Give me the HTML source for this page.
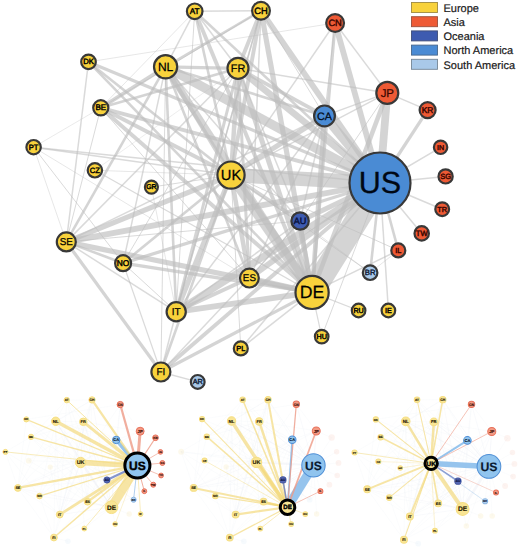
<!DOCTYPE html>
<html><head><meta charset="utf-8"><style>
html,body{margin:0;padding:0;background:#fff;}
svg{display:block;font-family:"Liberation Sans",sans-serif;text-rendering:geometricPrecision;}
</style></head><body>
<svg width="520" height="548" viewBox="0 0 520 548">
<rect width="520" height="548" fill="#fff"/>
<g stroke="#bdbdbd" stroke-opacity="0.66" fill="none" stroke-linecap="butt">
<line x1="380.0" y1="183.0" x2="312.1" y2="292.4" stroke-width="23.40"/>
<line x1="380.0" y1="183.0" x2="231.0" y2="175.1" stroke-width="14.30"/>
<line x1="380.0" y1="183.0" x2="165.6" y2="66.8" stroke-width="9.10"/>
<line x1="380.0" y1="183.0" x2="238.0" y2="68.3" stroke-width="6.50"/>
<line x1="380.0" y1="183.0" x2="324.5" y2="115.9" stroke-width="9.10"/>
<line x1="380.0" y1="183.0" x2="387.3" y2="92.9" stroke-width="7.80"/>
<line x1="380.0" y1="183.0" x2="335.1" y2="23.0" stroke-width="5.85"/>
<line x1="380.0" y1="183.0" x2="261.0" y2="10.8" stroke-width="5.85"/>
<line x1="380.0" y1="183.0" x2="176.2" y2="311.8" stroke-width="7.15"/>
<line x1="380.0" y1="183.0" x2="249.4" y2="278.1" stroke-width="5.85"/>
<line x1="380.0" y1="183.0" x2="66.3" y2="241.9" stroke-width="5.85"/>
<line x1="380.0" y1="183.0" x2="300.1" y2="221.0" stroke-width="5.20"/>
<line x1="380.0" y1="183.0" x2="427.6" y2="110.1" stroke-width="3.25"/>
<line x1="380.0" y1="183.0" x2="398.3" y2="250.4" stroke-width="2.60"/>
<line x1="380.0" y1="183.0" x2="100.8" y2="107.8" stroke-width="3.90"/>
<line x1="380.0" y1="183.0" x2="88.5" y2="61.9" stroke-width="3.25"/>
<line x1="380.0" y1="183.0" x2="194.7" y2="11.3" stroke-width="2.60"/>
<line x1="380.0" y1="183.0" x2="123.1" y2="263.2" stroke-width="3.25"/>
<line x1="380.0" y1="183.0" x2="160.9" y2="372.0" stroke-width="3.90"/>
<line x1="380.0" y1="183.0" x2="33.6" y2="147.2" stroke-width="1.50" stroke-opacity="0.56"/>
<line x1="380.0" y1="183.0" x2="240.8" y2="348.4" stroke-width="1.50" stroke-opacity="0.56"/>
<line x1="380.0" y1="183.0" x2="321.7" y2="336.6" stroke-width="1.00" stroke-opacity="0.56"/>
<line x1="380.0" y1="183.0" x2="388.4" y2="310.5" stroke-width="1.50" stroke-opacity="0.56"/>
<line x1="380.0" y1="183.0" x2="370.1" y2="272.7" stroke-width="2.60"/>
<line x1="380.0" y1="183.0" x2="421.7" y2="233.4" stroke-width="1.50" stroke-opacity="0.56"/>
<line x1="380.0" y1="183.0" x2="442.2" y2="209.2" stroke-width="1.50" stroke-opacity="0.56"/>
<line x1="380.0" y1="183.0" x2="445.6" y2="176.4" stroke-width="1.50" stroke-opacity="0.56"/>
<line x1="380.0" y1="183.0" x2="440.6" y2="147.3" stroke-width="1.50" stroke-opacity="0.56"/>
<line x1="312.1" y1="292.4" x2="231.0" y2="175.1" stroke-width="10.40"/>
<line x1="312.1" y1="292.4" x2="165.6" y2="66.8" stroke-width="7.00"/>
<line x1="312.1" y1="292.4" x2="238.0" y2="68.3" stroke-width="5.00"/>
<line x1="312.1" y1="292.4" x2="261.0" y2="10.8" stroke-width="5.20"/>
<line x1="312.1" y1="292.4" x2="194.7" y2="11.3" stroke-width="3.90"/>
<line x1="312.1" y1="292.4" x2="88.5" y2="61.9" stroke-width="2.60"/>
<line x1="312.1" y1="292.4" x2="100.8" y2="107.8" stroke-width="3.90"/>
<line x1="312.1" y1="292.4" x2="94.9" y2="170.3" stroke-width="1.20" stroke-opacity="0.56"/>
<line x1="312.1" y1="292.4" x2="66.3" y2="241.9" stroke-width="5.20"/>
<line x1="312.1" y1="292.4" x2="123.1" y2="263.2" stroke-width="3.25"/>
<line x1="312.1" y1="292.4" x2="249.4" y2="278.1" stroke-width="5.20"/>
<line x1="312.1" y1="292.4" x2="176.2" y2="311.8" stroke-width="5.85"/>
<line x1="312.1" y1="292.4" x2="160.9" y2="372.0" stroke-width="3.25"/>
<line x1="312.1" y1="292.4" x2="240.8" y2="348.4" stroke-width="1.50" stroke-opacity="0.56"/>
<line x1="312.1" y1="292.4" x2="300.1" y2="221.0" stroke-width="3.90"/>
<line x1="312.1" y1="292.4" x2="335.1" y2="23.0" stroke-width="3.25"/>
<line x1="312.1" y1="292.4" x2="324.5" y2="115.9" stroke-width="4.55"/>
<line x1="312.1" y1="292.4" x2="387.3" y2="92.9" stroke-width="4.55"/>
<line x1="312.1" y1="292.4" x2="398.3" y2="250.4" stroke-width="1.50" stroke-opacity="0.56"/>
<line x1="312.1" y1="292.4" x2="358.6" y2="310.5" stroke-width="1.20" stroke-opacity="0.56"/>
<line x1="312.1" y1="292.4" x2="321.7" y2="336.6" stroke-width="1.20" stroke-opacity="0.56"/>
<line x1="231.0" y1="175.1" x2="194.7" y2="11.3" stroke-width="2.60"/>
<line x1="231.0" y1="175.1" x2="261.0" y2="10.8" stroke-width="3.90"/>
<line x1="231.0" y1="175.1" x2="88.5" y2="61.9" stroke-width="2.60"/>
<line x1="231.0" y1="175.1" x2="165.6" y2="66.8" stroke-width="4.00"/>
<line x1="231.0" y1="175.1" x2="238.0" y2="68.3" stroke-width="4.50"/>
<line x1="231.0" y1="175.1" x2="100.8" y2="107.8" stroke-width="3.90"/>
<line x1="231.0" y1="175.1" x2="33.6" y2="147.2" stroke-width="1.50" stroke-opacity="0.56"/>
<line x1="231.0" y1="175.1" x2="94.9" y2="170.3" stroke-width="0.80" stroke-opacity="0.45"/>
<line x1="231.0" y1="175.1" x2="151.4" y2="187.1" stroke-width="1.00" stroke-opacity="0.56"/>
<line x1="231.0" y1="175.1" x2="66.3" y2="241.9" stroke-width="5.20"/>
<line x1="231.0" y1="175.1" x2="123.1" y2="263.2" stroke-width="2.60"/>
<line x1="231.0" y1="175.1" x2="176.2" y2="311.8" stroke-width="5.20"/>
<line x1="231.0" y1="175.1" x2="160.9" y2="372.0" stroke-width="2.60"/>
<line x1="231.0" y1="175.1" x2="249.4" y2="278.1" stroke-width="4.55"/>
<line x1="231.0" y1="175.1" x2="240.8" y2="348.4" stroke-width="1.00" stroke-opacity="0.56"/>
<line x1="231.0" y1="175.1" x2="335.1" y2="23.0" stroke-width="1.50" stroke-opacity="0.56"/>
<line x1="231.0" y1="175.1" x2="387.3" y2="92.9" stroke-width="1.50" stroke-opacity="0.56"/>
<line x1="231.0" y1="175.1" x2="324.5" y2="115.9" stroke-width="5.20"/>
<line x1="231.0" y1="175.1" x2="300.1" y2="221.0" stroke-width="3.90"/>
<line x1="231.0" y1="175.1" x2="398.3" y2="250.4" stroke-width="1.00" stroke-opacity="0.56"/>
<line x1="231.0" y1="175.1" x2="370.1" y2="272.7" stroke-width="1.00" stroke-opacity="0.56"/>
<line x1="165.6" y1="66.8" x2="238.0" y2="68.3" stroke-width="3.25"/>
<line x1="165.6" y1="66.8" x2="100.8" y2="107.8" stroke-width="3.90"/>
<line x1="165.6" y1="66.8" x2="261.0" y2="10.8" stroke-width="2.60"/>
<line x1="165.6" y1="66.8" x2="176.2" y2="311.8" stroke-width="2.60"/>
<line x1="165.6" y1="66.8" x2="249.4" y2="278.1" stroke-width="2.60"/>
<line x1="165.6" y1="66.8" x2="66.3" y2="241.9" stroke-width="2.60"/>
<line x1="165.6" y1="66.8" x2="324.5" y2="115.9" stroke-width="2.60"/>
<line x1="165.6" y1="66.8" x2="194.7" y2="11.3" stroke-width="1.50" stroke-opacity="0.56"/>
<line x1="165.6" y1="66.8" x2="160.9" y2="372.0" stroke-width="1.00" stroke-opacity="0.56"/>
<line x1="165.6" y1="66.8" x2="123.1" y2="263.2" stroke-width="1.50" stroke-opacity="0.56"/>
<line x1="165.6" y1="66.8" x2="300.1" y2="221.0" stroke-width="1.50" stroke-opacity="0.56"/>
<line x1="238.0" y1="68.3" x2="261.0" y2="10.8" stroke-width="3.90"/>
<line x1="238.0" y1="68.3" x2="176.2" y2="311.8" stroke-width="3.00"/>
<line x1="238.0" y1="68.3" x2="249.4" y2="278.1" stroke-width="3.00"/>
<line x1="238.0" y1="68.3" x2="100.8" y2="107.8" stroke-width="2.60"/>
<line x1="238.0" y1="68.3" x2="324.5" y2="115.9" stroke-width="3.90"/>
<line x1="238.0" y1="68.3" x2="387.3" y2="92.9" stroke-width="1.50" stroke-opacity="0.56"/>
<line x1="238.0" y1="68.3" x2="194.7" y2="11.3" stroke-width="1.50" stroke-opacity="0.56"/>
<line x1="238.0" y1="68.3" x2="66.3" y2="241.9" stroke-width="1.50" stroke-opacity="0.56"/>
<line x1="238.0" y1="68.3" x2="123.1" y2="263.2" stroke-width="1.00" stroke-opacity="0.56"/>
<line x1="238.0" y1="68.3" x2="300.1" y2="221.0" stroke-width="1.50" stroke-opacity="0.56"/>
<line x1="176.2" y1="311.8" x2="249.4" y2="278.1" stroke-width="3.90"/>
<line x1="176.2" y1="311.8" x2="261.0" y2="10.8" stroke-width="1.50" stroke-opacity="0.56"/>
<line x1="176.2" y1="311.8" x2="66.3" y2="241.9" stroke-width="1.50" stroke-opacity="0.56"/>
<line x1="176.2" y1="311.8" x2="160.9" y2="372.0" stroke-width="1.50" stroke-opacity="0.56"/>
<line x1="176.2" y1="311.8" x2="123.1" y2="263.2" stroke-width="1.00" stroke-opacity="0.56"/>
<line x1="176.2" y1="311.8" x2="194.7" y2="11.3" stroke-width="1.00" stroke-opacity="0.56"/>
<line x1="176.2" y1="311.8" x2="300.1" y2="221.0" stroke-width="1.50" stroke-opacity="0.56"/>
<line x1="66.3" y1="241.9" x2="160.9" y2="372.0" stroke-width="3.25"/>
<line x1="66.3" y1="241.9" x2="123.1" y2="263.2" stroke-width="2.60"/>
<line x1="66.3" y1="241.9" x2="88.5" y2="61.9" stroke-width="1.50" stroke-opacity="0.56"/>
<line x1="66.3" y1="241.9" x2="100.8" y2="107.8" stroke-width="1.00" stroke-opacity="0.56"/>
<line x1="66.3" y1="241.9" x2="33.6" y2="147.2" stroke-width="0.80" stroke-opacity="0.45"/>
<line x1="66.3" y1="241.9" x2="324.5" y2="115.9" stroke-width="1.50" stroke-opacity="0.56"/>
<line x1="66.3" y1="241.9" x2="300.1" y2="221.0" stroke-width="1.00" stroke-opacity="0.56"/>
<line x1="261.0" y1="10.8" x2="194.7" y2="11.3" stroke-width="1.50" stroke-opacity="0.56"/>
<line x1="261.0" y1="10.8" x2="324.5" y2="115.9" stroke-width="1.00" stroke-opacity="0.56"/>
<line x1="261.0" y1="10.8" x2="249.4" y2="278.1" stroke-width="1.50" stroke-opacity="0.56"/>
<line x1="261.0" y1="10.8" x2="100.8" y2="107.8" stroke-width="1.00" stroke-opacity="0.56"/>
<line x1="261.0" y1="10.8" x2="176.2" y2="311.8" stroke-width="1.50" stroke-opacity="0.56"/>
<line x1="324.5" y1="115.9" x2="387.3" y2="92.9" stroke-width="1.50" stroke-opacity="0.56"/>
<line x1="324.5" y1="115.9" x2="335.1" y2="23.0" stroke-width="1.00" stroke-opacity="0.56"/>
<line x1="324.5" y1="115.9" x2="300.1" y2="221.0" stroke-width="1.50" stroke-opacity="0.56"/>
<line x1="324.5" y1="115.9" x2="249.4" y2="278.1" stroke-width="1.50" stroke-opacity="0.56"/>
<line x1="324.5" y1="115.9" x2="176.2" y2="311.8" stroke-width="1.50" stroke-opacity="0.56"/>
<line x1="335.1" y1="23.0" x2="387.3" y2="92.9" stroke-width="1.50" stroke-opacity="0.56"/>
<line x1="387.3" y1="92.9" x2="427.6" y2="110.1" stroke-width="1.50" stroke-opacity="0.56"/>
<line x1="335.1" y1="23.0" x2="88.5" y2="61.9" stroke-width="0.80" stroke-opacity="0.45"/>
<line x1="33.6" y1="147.2" x2="123.1" y2="263.2" stroke-width="1.00" stroke-opacity="0.56"/>
<line x1="33.6" y1="147.2" x2="100.8" y2="107.8" stroke-width="0.70" stroke-opacity="0.45"/>
<line x1="33.6" y1="147.2" x2="249.4" y2="278.1" stroke-width="0.80" stroke-opacity="0.45"/>
<line x1="160.9" y1="372.0" x2="197.7" y2="381.9" stroke-width="1.50" stroke-opacity="0.56"/>
<line x1="160.9" y1="372.0" x2="249.4" y2="278.1" stroke-width="1.50" stroke-opacity="0.56"/>
<line x1="160.9" y1="372.0" x2="123.1" y2="263.2" stroke-width="1.20" stroke-opacity="0.56"/>
<line x1="249.4" y1="278.1" x2="100.8" y2="107.8" stroke-width="1.00" stroke-opacity="0.56"/>
<line x1="249.4" y1="278.1" x2="300.1" y2="221.0" stroke-width="1.50" stroke-opacity="0.56"/>
<line x1="370.1" y1="272.7" x2="300.1" y2="221.0" stroke-width="0.80" stroke-opacity="0.45"/>
<line x1="370.1" y1="272.7" x2="398.3" y2="250.4" stroke-width="0.80" stroke-opacity="0.45"/>
<line x1="300.1" y1="221.0" x2="387.3" y2="92.9" stroke-width="1.00" stroke-opacity="0.56"/>
<line x1="300.1" y1="221.0" x2="249.4" y2="278.1" stroke-width="1.00" stroke-opacity="0.56"/>
<line x1="151.4" y1="187.1" x2="176.2" y2="311.8" stroke-width="0.80" stroke-opacity="0.45"/>
<line x1="94.9" y1="170.3" x2="238.0" y2="68.3" stroke-width="0.60" stroke-opacity="0.45"/>
<line x1="194.7" y1="11.3" x2="100.8" y2="107.8" stroke-width="0.80" stroke-opacity="0.45"/>
</g>
<circle cx="194.7" cy="11.3" r="7.80" fill="#f8d23c" stroke="#383838" stroke-width="2.2"/>
<text x="194.7" y="14.05" font-size="8.20" fill="#000000" stroke="#000000" stroke-width="0.45" text-anchor="middle">AT</text>
<circle cx="261.0" cy="10.8" r="8.90" fill="#f8d23c" stroke="#383838" stroke-width="2.2"/>
<text x="261.0" y="13.92" font-size="9.30" fill="#000000" stroke="#000000" stroke-width="0.45" text-anchor="middle">CH</text>
<circle cx="335.1" cy="23.0" r="8.90" fill="#ee5a35" stroke="#383838" stroke-width="2.2"/>
<text x="335.1" y="26.12" font-size="9.30" fill="#3a0600" stroke="#3a0600" stroke-width="0.45" text-anchor="middle">CN</text>
<circle cx="88.5" cy="61.9" r="7.30" fill="#f8d23c" stroke="#383838" stroke-width="2.2"/>
<text x="88.5" y="64.48" font-size="7.70" fill="#000000" stroke="#000000" stroke-width="0.45" text-anchor="middle">DK</text>
<circle cx="165.6" cy="66.8" r="11.60" fill="#f8d23c" stroke="#383838" stroke-width="2.2"/>
<text x="165.6" y="70.82" font-size="12.00" fill="#000000" stroke="#000000" stroke-width="0.25" text-anchor="middle">NL</text>
<circle cx="238.0" cy="68.3" r="10.50" fill="#f8d23c" stroke="#383838" stroke-width="2.2"/>
<text x="238.0" y="71.95" font-size="10.90" fill="#000000" stroke="#000000" stroke-width="0.25" text-anchor="middle">FR</text>
<circle cx="387.3" cy="92.9" r="11.00" fill="#ee5a35" stroke="#383838" stroke-width="2.2"/>
<text x="387.3" y="96.72" font-size="11.40" fill="#3a0600" stroke="#3a0600" stroke-width="0.25" text-anchor="middle">JP</text>
<circle cx="100.8" cy="107.8" r="7.60" fill="#f8d23c" stroke="#383838" stroke-width="2.2"/>
<text x="100.8" y="110.48" font-size="8.00" fill="#000000" stroke="#000000" stroke-width="0.45" text-anchor="middle">BE</text>
<circle cx="427.6" cy="110.1" r="8.00" fill="#ee5a35" stroke="#383838" stroke-width="2.2"/>
<text x="427.6" y="112.91" font-size="8.40" fill="#3a0600" stroke="#3a0600" stroke-width="0.45" text-anchor="middle">KR</text>
<circle cx="324.5" cy="115.9" r="10.40" fill="#4a8bd4" stroke="#383838" stroke-width="2.2"/>
<text x="324.5" y="119.52" font-size="10.80" fill="#000814" stroke="#000814" stroke-width="0.25" text-anchor="middle">CA</text>
<circle cx="33.6" cy="147.2" r="7.20" fill="#f8d23c" stroke="#383838" stroke-width="2.2"/>
<text x="33.6" y="149.75" font-size="7.60" fill="#000000" stroke="#000000" stroke-width="0.45" text-anchor="middle">PT</text>
<circle cx="440.6" cy="147.3" r="6.70" fill="#ee5a35" stroke="#383838" stroke-width="2.2"/>
<text x="440.6" y="149.68" font-size="7.10" fill="#3a0600" stroke="#3a0600" stroke-width="0.45" text-anchor="middle">IN</text>
<circle cx="94.9" cy="170.3" r="7.20" fill="#f8d23c" stroke="#383838" stroke-width="2.2"/>
<text x="94.9" y="172.85" font-size="7.60" fill="#000000" stroke="#000000" stroke-width="0.45" text-anchor="middle">CZ</text>
<circle cx="231.0" cy="175.1" r="13.60" fill="#f8d23c" stroke="#383838" stroke-width="2.2"/>
<text x="231.0" y="180.02" font-size="14.70" fill="#000000" stroke="#000000" stroke-width="0.25" text-anchor="middle">UK</text>
<circle cx="380.0" cy="183.0" r="30.50" fill="#4a8bd4" stroke="#383838" stroke-width="2.2"/>
<text x="380.0" y="193.06" font-size="30.50" fill="#000814" stroke="#000814" stroke-width="0.3" text-anchor="middle">US</text>
<circle cx="445.6" cy="176.4" r="7.10" fill="#ee5a35" stroke="#383838" stroke-width="2.2"/>
<text x="445.6" y="178.91" font-size="7.50" fill="#3a0600" stroke="#3a0600" stroke-width="0.45" text-anchor="middle">SG</text>
<circle cx="151.4" cy="187.1" r="6.50" fill="#f8d23c" stroke="#383838" stroke-width="2.2"/>
<text x="151.4" y="189.41" font-size="6.90" fill="#000000" stroke="#000000" stroke-width="0.45" text-anchor="middle">GR</text>
<circle cx="442.2" cy="209.2" r="6.90" fill="#ee5a35" stroke="#383838" stroke-width="2.2"/>
<text x="442.2" y="211.65" font-size="7.30" fill="#3a0600" stroke="#3a0600" stroke-width="0.45" text-anchor="middle">TR</text>
<circle cx="300.1" cy="221.0" r="8.70" fill="#3e5bb0" stroke="#383838" stroke-width="2.2"/>
<text x="300.1" y="224.05" font-size="9.10" fill="#081240" stroke="#081240" stroke-width="0.45" text-anchor="middle">AU</text>
<circle cx="421.7" cy="233.4" r="7.20" fill="#ee5a35" stroke="#383838" stroke-width="2.2"/>
<text x="421.7" y="235.95" font-size="7.60" fill="#3a0600" stroke="#3a0600" stroke-width="0.45" text-anchor="middle">TW</text>
<circle cx="66.3" cy="241.9" r="9.50" fill="#f8d23c" stroke="#383838" stroke-width="2.2"/>
<text x="66.3" y="245.22" font-size="9.90" fill="#000000" stroke="#000000" stroke-width="0.25" text-anchor="middle">SE</text>
<circle cx="398.3" cy="250.4" r="7.00" fill="#ee5a35" stroke="#383838" stroke-width="2.2"/>
<text x="398.3" y="252.88" font-size="7.40" fill="#3a0600" stroke="#3a0600" stroke-width="0.45" text-anchor="middle">IL</text>
<circle cx="123.1" cy="263.2" r="8.00" fill="#f8d23c" stroke="#383838" stroke-width="2.2"/>
<text x="123.1" y="266.01" font-size="8.40" fill="#000000" stroke="#000000" stroke-width="0.45" text-anchor="middle">NO</text>
<circle cx="370.1" cy="272.7" r="7.30" fill="#a9c9e9" stroke="#383838" stroke-width="2.2"/>
<text x="370.1" y="275.28" font-size="7.70" fill="#14243c" stroke="#14243c" stroke-width="0.45" text-anchor="middle">BR</text>
<circle cx="249.4" cy="278.1" r="9.40" fill="#f8d23c" stroke="#383838" stroke-width="2.2"/>
<text x="249.4" y="281.38" font-size="9.80" fill="#000000" stroke="#000000" stroke-width="0.25" text-anchor="middle">ES</text>
<circle cx="312.1" cy="292.4" r="16.60" fill="#f8d23c" stroke="#383838" stroke-width="2.2"/>
<text x="312.1" y="298.33" font-size="17.70" fill="#000000" stroke="#000000" stroke-width="0.25" text-anchor="middle">DE</text>
<circle cx="176.2" cy="311.8" r="9.60" fill="#f8d23c" stroke="#383838" stroke-width="2.2"/>
<text x="176.2" y="315.15" font-size="10.00" fill="#000000" stroke="#000000" stroke-width="0.25" text-anchor="middle">IT</text>
<circle cx="358.6" cy="310.5" r="6.80" fill="#f8d23c" stroke="#383838" stroke-width="2.2"/>
<text x="358.6" y="312.91" font-size="7.20" fill="#000000" stroke="#000000" stroke-width="0.45" text-anchor="middle">RU</text>
<circle cx="388.4" cy="310.5" r="6.80" fill="#f8d23c" stroke="#383838" stroke-width="2.2"/>
<text x="388.4" y="312.91" font-size="7.20" fill="#000000" stroke="#000000" stroke-width="0.45" text-anchor="middle">IE</text>
<circle cx="321.7" cy="336.6" r="6.80" fill="#f8d23c" stroke="#383838" stroke-width="2.2"/>
<text x="321.7" y="339.01" font-size="7.20" fill="#000000" stroke="#000000" stroke-width="0.45" text-anchor="middle">HU</text>
<circle cx="240.8" cy="348.4" r="7.00" fill="#f8d23c" stroke="#383838" stroke-width="2.2"/>
<text x="240.8" y="350.88" font-size="7.40" fill="#000000" stroke="#000000" stroke-width="0.45" text-anchor="middle">PL</text>
<circle cx="160.9" cy="372.0" r="9.50" fill="#f8d23c" stroke="#383838" stroke-width="2.2"/>
<text x="160.9" y="375.32" font-size="9.90" fill="#000000" stroke="#000000" stroke-width="0.25" text-anchor="middle">FI</text>
<circle cx="197.7" cy="381.9" r="6.90" fill="#a9c9e9" stroke="#383838" stroke-width="2.2"/>
<text x="197.7" y="384.35" font-size="7.30" fill="#14243c" stroke="#14243c" stroke-width="0.45" text-anchor="middle">AR</text>
<rect x="411.5" y="2.50" width="26" height="10" fill="#f8d23c" stroke="#9e8b40" stroke-width="0.9"/>
<text x="443.5" y="11.80" font-size="11" fill="#1a1a1a" stroke="#1a1a1a" stroke-width="0.2">Europe</text>
<rect x="411.5" y="16.70" width="26" height="10" fill="#ee5a35" stroke="#994f3c" stroke-width="0.9"/>
<text x="443.5" y="26.00" font-size="11" fill="#1a1a1a" stroke="#1a1a1a" stroke-width="0.2">Asia</text>
<rect x="411.5" y="30.90" width="26" height="10" fill="#3e5bb0" stroke="#414f7a" stroke-width="0.9"/>
<text x="443.5" y="40.20" font-size="11" fill="#1a1a1a" stroke="#1a1a1a" stroke-width="0.2">Oceania</text>
<rect x="411.5" y="45.10" width="26" height="10" fill="#4a8bd4" stroke="#47678c" stroke-width="0.9"/>
<text x="443.5" y="54.40" font-size="11" fill="#1a1a1a" stroke="#1a1a1a" stroke-width="0.2">North America</text>
<rect x="411.5" y="59.30" width="26" height="10" fill="#a9c9e9" stroke="#768696" stroke-width="0.9"/>
<text x="443.5" y="68.60" font-size="11" fill="#1a1a1a" stroke="#1a1a1a" stroke-width="0.2">South America</text>
<g transform="translate(-7.4,395.8) scale(0.381)">
<g stroke="#e6e9f2" stroke-opacity="0.35" fill="none">
<line x1="312.1" y1="292.4" x2="231.0" y2="175.1" stroke-width="3.19"/>
<line x1="312.1" y1="292.4" x2="165.6" y2="66.8" stroke-width="2.79"/>
<line x1="312.1" y1="292.4" x2="238.0" y2="68.3" stroke-width="1.99"/>
<line x1="312.1" y1="292.4" x2="261.0" y2="10.8" stroke-width="1.60"/>
<line x1="312.1" y1="292.4" x2="194.7" y2="11.3" stroke-width="1.20"/>
<line x1="312.1" y1="292.4" x2="88.5" y2="61.9" stroke-width="1.20"/>
<line x1="312.1" y1="292.4" x2="100.8" y2="107.8" stroke-width="1.20"/>
<line x1="312.1" y1="292.4" x2="94.9" y2="170.3" stroke-width="1.20"/>
<line x1="312.1" y1="292.4" x2="66.3" y2="241.9" stroke-width="1.60"/>
<line x1="312.1" y1="292.4" x2="123.1" y2="263.2" stroke-width="1.20"/>
<line x1="312.1" y1="292.4" x2="249.4" y2="278.1" stroke-width="1.60"/>
<line x1="312.1" y1="292.4" x2="176.2" y2="311.8" stroke-width="1.80"/>
<line x1="312.1" y1="292.4" x2="160.9" y2="372.0" stroke-width="1.20"/>
<line x1="312.1" y1="292.4" x2="240.8" y2="348.4" stroke-width="1.20"/>
<line x1="312.1" y1="292.4" x2="300.1" y2="221.0" stroke-width="1.20"/>
<line x1="312.1" y1="292.4" x2="335.1" y2="23.0" stroke-width="1.20"/>
<line x1="312.1" y1="292.4" x2="324.5" y2="115.9" stroke-width="1.40"/>
<line x1="312.1" y1="292.4" x2="387.3" y2="92.9" stroke-width="1.40"/>
<line x1="312.1" y1="292.4" x2="398.3" y2="250.4" stroke-width="1.20"/>
<line x1="312.1" y1="292.4" x2="358.6" y2="310.5" stroke-width="1.20"/>
<line x1="312.1" y1="292.4" x2="321.7" y2="336.6" stroke-width="1.20"/>
<line x1="231.0" y1="175.1" x2="194.7" y2="11.3" stroke-width="1.20"/>
<line x1="231.0" y1="175.1" x2="261.0" y2="10.8" stroke-width="1.20"/>
<line x1="231.0" y1="175.1" x2="88.5" y2="61.9" stroke-width="1.20"/>
<line x1="231.0" y1="175.1" x2="165.6" y2="66.8" stroke-width="1.99"/>
<line x1="231.0" y1="175.1" x2="238.0" y2="68.3" stroke-width="1.99"/>
<line x1="231.0" y1="175.1" x2="100.8" y2="107.8" stroke-width="1.20"/>
<line x1="231.0" y1="175.1" x2="33.6" y2="147.2" stroke-width="1.20"/>
<line x1="231.0" y1="175.1" x2="94.9" y2="170.3" stroke-width="1.20"/>
<line x1="231.0" y1="175.1" x2="151.4" y2="187.1" stroke-width="1.20"/>
<line x1="231.0" y1="175.1" x2="66.3" y2="241.9" stroke-width="1.60"/>
<line x1="231.0" y1="175.1" x2="123.1" y2="263.2" stroke-width="1.20"/>
<line x1="231.0" y1="175.1" x2="176.2" y2="311.8" stroke-width="1.60"/>
<line x1="231.0" y1="175.1" x2="160.9" y2="372.0" stroke-width="1.20"/>
<line x1="231.0" y1="175.1" x2="249.4" y2="278.1" stroke-width="1.40"/>
<line x1="231.0" y1="175.1" x2="240.8" y2="348.4" stroke-width="1.20"/>
<line x1="231.0" y1="175.1" x2="335.1" y2="23.0" stroke-width="1.20"/>
<line x1="231.0" y1="175.1" x2="387.3" y2="92.9" stroke-width="1.20"/>
<line x1="231.0" y1="175.1" x2="324.5" y2="115.9" stroke-width="1.60"/>
<line x1="231.0" y1="175.1" x2="300.1" y2="221.0" stroke-width="1.20"/>
<line x1="231.0" y1="175.1" x2="398.3" y2="250.4" stroke-width="1.20"/>
<line x1="231.0" y1="175.1" x2="370.1" y2="272.7" stroke-width="1.20"/>
<line x1="165.6" y1="66.8" x2="238.0" y2="68.3" stroke-width="1.20"/>
<line x1="165.6" y1="66.8" x2="100.8" y2="107.8" stroke-width="1.20"/>
<line x1="165.6" y1="66.8" x2="261.0" y2="10.8" stroke-width="1.20"/>
<line x1="165.6" y1="66.8" x2="176.2" y2="311.8" stroke-width="1.20"/>
<line x1="165.6" y1="66.8" x2="249.4" y2="278.1" stroke-width="1.20"/>
<line x1="165.6" y1="66.8" x2="66.3" y2="241.9" stroke-width="1.20"/>
<line x1="165.6" y1="66.8" x2="324.5" y2="115.9" stroke-width="1.20"/>
<line x1="165.6" y1="66.8" x2="194.7" y2="11.3" stroke-width="1.20"/>
<line x1="165.6" y1="66.8" x2="160.9" y2="372.0" stroke-width="1.20"/>
<line x1="165.6" y1="66.8" x2="123.1" y2="263.2" stroke-width="1.20"/>
<line x1="165.6" y1="66.8" x2="300.1" y2="221.0" stroke-width="1.20"/>
<line x1="238.0" y1="68.3" x2="261.0" y2="10.8" stroke-width="1.20"/>
<line x1="238.0" y1="68.3" x2="176.2" y2="311.8" stroke-width="1.40"/>
<line x1="238.0" y1="68.3" x2="249.4" y2="278.1" stroke-width="1.20"/>
<line x1="238.0" y1="68.3" x2="100.8" y2="107.8" stroke-width="1.20"/>
<line x1="238.0" y1="68.3" x2="324.5" y2="115.9" stroke-width="1.20"/>
<line x1="238.0" y1="68.3" x2="387.3" y2="92.9" stroke-width="1.20"/>
<line x1="238.0" y1="68.3" x2="194.7" y2="11.3" stroke-width="1.20"/>
<line x1="238.0" y1="68.3" x2="66.3" y2="241.9" stroke-width="1.20"/>
<line x1="238.0" y1="68.3" x2="123.1" y2="263.2" stroke-width="1.20"/>
<line x1="238.0" y1="68.3" x2="300.1" y2="221.0" stroke-width="1.20"/>
<line x1="176.2" y1="311.8" x2="249.4" y2="278.1" stroke-width="1.20"/>
<line x1="176.2" y1="311.8" x2="261.0" y2="10.8" stroke-width="1.20"/>
<line x1="176.2" y1="311.8" x2="66.3" y2="241.9" stroke-width="1.20"/>
<line x1="176.2" y1="311.8" x2="160.9" y2="372.0" stroke-width="1.20"/>
<line x1="176.2" y1="311.8" x2="123.1" y2="263.2" stroke-width="1.20"/>
<line x1="176.2" y1="311.8" x2="194.7" y2="11.3" stroke-width="1.20"/>
<line x1="176.2" y1="311.8" x2="300.1" y2="221.0" stroke-width="1.20"/>
<line x1="66.3" y1="241.9" x2="160.9" y2="372.0" stroke-width="1.20"/>
<line x1="66.3" y1="241.9" x2="123.1" y2="263.2" stroke-width="1.20"/>
<line x1="66.3" y1="241.9" x2="88.5" y2="61.9" stroke-width="1.20"/>
<line x1="66.3" y1="241.9" x2="100.8" y2="107.8" stroke-width="1.20"/>
<line x1="66.3" y1="241.9" x2="33.6" y2="147.2" stroke-width="1.20"/>
<line x1="66.3" y1="241.9" x2="324.5" y2="115.9" stroke-width="1.20"/>
<line x1="66.3" y1="241.9" x2="300.1" y2="221.0" stroke-width="1.20"/>
<line x1="261.0" y1="10.8" x2="194.7" y2="11.3" stroke-width="1.20"/>
<line x1="261.0" y1="10.8" x2="324.5" y2="115.9" stroke-width="1.20"/>
<line x1="261.0" y1="10.8" x2="249.4" y2="278.1" stroke-width="1.20"/>
<line x1="261.0" y1="10.8" x2="100.8" y2="107.8" stroke-width="1.20"/>
<line x1="261.0" y1="10.8" x2="176.2" y2="311.8" stroke-width="1.20"/>
<line x1="324.5" y1="115.9" x2="387.3" y2="92.9" stroke-width="1.20"/>
<line x1="324.5" y1="115.9" x2="335.1" y2="23.0" stroke-width="1.20"/>
<line x1="324.5" y1="115.9" x2="300.1" y2="221.0" stroke-width="1.20"/>
<line x1="324.5" y1="115.9" x2="249.4" y2="278.1" stroke-width="1.20"/>
<line x1="324.5" y1="115.9" x2="176.2" y2="311.8" stroke-width="1.20"/>
<line x1="335.1" y1="23.0" x2="387.3" y2="92.9" stroke-width="1.20"/>
<line x1="387.3" y1="92.9" x2="427.6" y2="110.1" stroke-width="1.20"/>
<line x1="335.1" y1="23.0" x2="88.5" y2="61.9" stroke-width="1.20"/>
<line x1="33.6" y1="147.2" x2="123.1" y2="263.2" stroke-width="1.20"/>
<line x1="33.6" y1="147.2" x2="100.8" y2="107.8" stroke-width="1.20"/>
<line x1="33.6" y1="147.2" x2="249.4" y2="278.1" stroke-width="1.20"/>
<line x1="160.9" y1="372.0" x2="197.7" y2="381.9" stroke-width="1.20"/>
<line x1="160.9" y1="372.0" x2="249.4" y2="278.1" stroke-width="1.20"/>
<line x1="160.9" y1="372.0" x2="123.1" y2="263.2" stroke-width="1.20"/>
<line x1="249.4" y1="278.1" x2="100.8" y2="107.8" stroke-width="1.20"/>
<line x1="249.4" y1="278.1" x2="300.1" y2="221.0" stroke-width="1.20"/>
<line x1="370.1" y1="272.7" x2="300.1" y2="221.0" stroke-width="1.20"/>
<line x1="370.1" y1="272.7" x2="398.3" y2="250.4" stroke-width="1.20"/>
<line x1="300.1" y1="221.0" x2="387.3" y2="92.9" stroke-width="1.20"/>
<line x1="300.1" y1="221.0" x2="249.4" y2="278.1" stroke-width="1.20"/>
<line x1="151.4" y1="187.1" x2="176.2" y2="311.8" stroke-width="1.20"/>
<line x1="94.9" y1="170.3" x2="238.0" y2="68.3" stroke-width="1.20"/>
<line x1="194.7" y1="11.3" x2="100.8" y2="107.8" stroke-width="1.20"/>
</g>
<line x1="380.0" y1="183.0" x2="312.1" y2="292.4" stroke="#f2d772" stroke-opacity="0.64" stroke-width="23.62"/>
<line x1="380.0" y1="183.0" x2="231.0" y2="175.1" stroke="#f2d772" stroke-opacity="0.64" stroke-width="14.44"/>
<line x1="380.0" y1="183.0" x2="165.6" y2="66.8" stroke="#f2d772" stroke-opacity="0.64" stroke-width="9.19"/>
<line x1="380.0" y1="183.0" x2="324.5" y2="115.9" stroke="#84baea" stroke-opacity="0.85" stroke-width="9.19"/>
<line x1="380.0" y1="183.0" x2="238.0" y2="68.3" stroke="#f2d772" stroke-opacity="0.64" stroke-width="7.87"/>
<line x1="380.0" y1="183.0" x2="387.3" y2="92.9" stroke="#ee9a86" stroke-opacity="0.8" stroke-width="7.87"/>
<line x1="380.0" y1="183.0" x2="176.2" y2="311.8" stroke="#f2d772" stroke-opacity="0.64" stroke-width="7.22"/>
<line x1="380.0" y1="183.0" x2="335.1" y2="23.0" stroke="#ee9a86" stroke-opacity="0.8" stroke-width="5.91"/>
<line x1="380.0" y1="183.0" x2="261.0" y2="10.8" stroke="#f2d772" stroke-opacity="0.64" stroke-width="5.91"/>
<line x1="380.0" y1="183.0" x2="249.4" y2="278.1" stroke="#f2d772" stroke-opacity="0.64" stroke-width="5.91"/>
<line x1="380.0" y1="183.0" x2="66.3" y2="241.9" stroke="#f2d772" stroke-opacity="0.64" stroke-width="5.91"/>
<line x1="380.0" y1="183.0" x2="300.1" y2="221.0" stroke="#7082c4" stroke-opacity="0.85" stroke-width="5.25"/>
<line x1="380.0" y1="183.0" x2="100.8" y2="107.8" stroke="#f2d772" stroke-opacity="0.64" stroke-width="3.94"/>
<line x1="380.0" y1="183.0" x2="160.9" y2="372.0" stroke="#f2d772" stroke-opacity="0.64" stroke-width="3.94"/>
<line x1="380.0" y1="183.0" x2="427.6" y2="110.1" stroke="#ee9a86" stroke-opacity="0.8" stroke-width="3.28"/>
<line x1="380.0" y1="183.0" x2="88.5" y2="61.9" stroke="#f2d772" stroke-opacity="0.64" stroke-width="3.28"/>
<line x1="380.0" y1="183.0" x2="123.1" y2="263.2" stroke="#f2d772" stroke-opacity="0.64" stroke-width="3.28"/>
<line x1="380.0" y1="183.0" x2="398.3" y2="250.4" stroke="#ee9a86" stroke-opacity="0.8" stroke-width="2.62"/>
<line x1="380.0" y1="183.0" x2="194.7" y2="11.3" stroke="#f2d772" stroke-opacity="0.64" stroke-width="2.62"/>
<line x1="380.0" y1="183.0" x2="370.1" y2="272.7" stroke="#a4c8ec" stroke-opacity="0.85" stroke-width="2.62"/>
<line x1="380.0" y1="183.0" x2="33.6" y2="147.2" stroke="#f2d772" stroke-opacity="0.64" stroke-width="1.97"/>
<line x1="380.0" y1="183.0" x2="240.8" y2="348.4" stroke="#f2d772" stroke-opacity="0.64" stroke-width="1.97"/>
<line x1="380.0" y1="183.0" x2="388.4" y2="310.5" stroke="#f2d772" stroke-opacity="0.64" stroke-width="1.97"/>
<line x1="380.0" y1="183.0" x2="421.7" y2="233.4" stroke="#ee9a86" stroke-opacity="0.8" stroke-width="1.97"/>
<line x1="380.0" y1="183.0" x2="442.2" y2="209.2" stroke="#ee9a86" stroke-opacity="0.8" stroke-width="1.97"/>
<line x1="380.0" y1="183.0" x2="445.6" y2="176.4" stroke="#ee9a86" stroke-opacity="0.8" stroke-width="1.97"/>
<line x1="380.0" y1="183.0" x2="440.6" y2="147.3" stroke="#ee9a86" stroke-opacity="0.8" stroke-width="1.97"/>
<line x1="380.0" y1="183.0" x2="321.7" y2="336.6" stroke="#f2d772" stroke-opacity="0.64" stroke-width="1.31"/>
<circle cx="94.9" cy="170.3" r="7.6" fill="#f3e3a0" fill-opacity="0.2"/>
<circle cx="151.4" cy="187.1" r="6.9" fill="#f3e3a0" fill-opacity="0.2"/>
<circle cx="358.6" cy="310.5" r="7.2" fill="#f3e3a0" fill-opacity="0.2"/>
<circle cx="197.7" cy="381.9" r="7.3" fill="#d4e4f4" fill-opacity="0.2"/>
<circle cx="194.7" cy="11.3" r="7.20" fill="#f9e594" stroke="#f5de84" stroke-width="2.62"/>
<text x="194.7" y="14.16" font-size="7.95" font-weight="bold" fill="#1e1800" stroke="#1e1800" stroke-width="0.39" text-anchor="middle">AT</text>
<circle cx="261.0" cy="10.8" r="8.30" fill="#f9e594" stroke="#f5de84" stroke-width="2.62"/>
<text x="261.0" y="14.05" font-size="9.02" font-weight="bold" fill="#1e1800" stroke="#1e1800" stroke-width="0.39" text-anchor="middle">CH</text>
<circle cx="335.1" cy="23.0" r="8.30" fill="#f29a84" stroke="#e8705a" stroke-width="2.62"/>
<text x="335.1" y="26.25" font-size="9.02" font-weight="bold" fill="#3a0c04" stroke="#3a0c04" stroke-width="0.39" text-anchor="middle">CN</text>
<circle cx="88.5" cy="61.9" r="6.70" fill="#f9e594" stroke="#f5de84" stroke-width="2.62"/>
<text x="88.5" y="64.59" font-size="7.47" font-weight="bold" fill="#1e1800" stroke="#1e1800" stroke-width="0.39" text-anchor="middle">DK</text>
<circle cx="165.6" cy="66.8" r="11.00" fill="#f9e594" stroke="#f5de84" stroke-width="2.62"/>
<text x="165.6" y="70.99" font-size="11.64" font-weight="bold" fill="#1e1800" stroke="#1e1800" stroke-width="0.39" text-anchor="middle">NL</text>
<circle cx="238.0" cy="68.3" r="9.90" fill="#f9e594" stroke="#f5de84" stroke-width="2.62"/>
<text x="238.0" y="72.11" font-size="10.57" font-weight="bold" fill="#1e1800" stroke="#1e1800" stroke-width="0.39" text-anchor="middle">FR</text>
<circle cx="387.3" cy="92.9" r="10.40" fill="#f29a84" stroke="#e8705a" stroke-width="2.62"/>
<text x="387.3" y="96.88" font-size="11.06" font-weight="bold" fill="#3a0c04" stroke="#3a0c04" stroke-width="0.39" text-anchor="middle">JP</text>
<circle cx="100.8" cy="107.8" r="7.00" fill="#f9e594" stroke="#f5de84" stroke-width="2.62"/>
<text x="100.8" y="110.59" font-size="7.76" font-weight="bold" fill="#1e1800" stroke="#1e1800" stroke-width="0.39" text-anchor="middle">BE</text>
<circle cx="427.6" cy="110.1" r="7.40" fill="#f29a84" stroke="#e8705a" stroke-width="2.62"/>
<text x="427.6" y="113.03" font-size="8.15" font-weight="bold" fill="#3a0c04" stroke="#3a0c04" stroke-width="0.39" text-anchor="middle">KR</text>
<circle cx="324.5" cy="115.9" r="9.80" fill="#90c4ee" stroke="#4f8fd6" stroke-width="2.62"/>
<text x="324.5" y="119.67" font-size="10.48" font-weight="bold" fill="#0a1a30" stroke="#0a1a30" stroke-width="0.39" text-anchor="middle">CA</text>
<circle cx="33.6" cy="147.2" r="6.60" fill="#f9e594" stroke="#f5de84" stroke-width="2.62"/>
<text x="33.6" y="149.85" font-size="7.37" font-weight="bold" fill="#1e1800" stroke="#1e1800" stroke-width="0.39" text-anchor="middle">PT</text>
<circle cx="440.6" cy="147.3" r="6.10" fill="#f29a84" stroke="#e8705a" stroke-width="2.62"/>
<text x="440.6" y="149.78" font-size="6.89" font-weight="bold" fill="#3a0c04" stroke="#3a0c04" stroke-width="0.39" text-anchor="middle">IN</text>
<circle cx="231.0" cy="175.1" r="13.70" fill="#f9e594" stroke="#f5de84" stroke-width="2.62"/>
<text x="231.0" y="180.23" font-size="14.26" font-weight="bold" fill="#1e1800" stroke="#1e1800" stroke-width="0.39" text-anchor="middle">UK</text>
<circle cx="445.6" cy="176.4" r="6.50" fill="#f29a84" stroke="#e8705a" stroke-width="2.62"/>
<text x="445.6" y="179.02" font-size="7.27" font-weight="bold" fill="#3a0c04" stroke="#3a0c04" stroke-width="0.39" text-anchor="middle">SG</text>
<circle cx="442.2" cy="209.2" r="6.30" fill="#f29a84" stroke="#e8705a" stroke-width="2.62"/>
<text x="442.2" y="211.75" font-size="7.08" font-weight="bold" fill="#3a0c04" stroke="#3a0c04" stroke-width="0.39" text-anchor="middle">TR</text>
<circle cx="300.1" cy="221.0" r="8.10" fill="#5567b3" stroke="#44569f" stroke-width="2.62"/>
<text x="300.1" y="224.18" font-size="8.83" font-weight="bold" fill="#0a123a" stroke="#0a123a" stroke-width="0.39" text-anchor="middle">AU</text>
<circle cx="421.7" cy="233.4" r="6.60" fill="#f29a84" stroke="#e8705a" stroke-width="2.62"/>
<text x="421.7" y="236.05" font-size="7.37" font-weight="bold" fill="#3a0c04" stroke="#3a0c04" stroke-width="0.39" text-anchor="middle">TW</text>
<circle cx="66.3" cy="241.9" r="8.90" fill="#f9e594" stroke="#f5de84" stroke-width="2.62"/>
<text x="66.3" y="245.36" font-size="9.60" font-weight="bold" fill="#1e1800" stroke="#1e1800" stroke-width="0.39" text-anchor="middle">SE</text>
<circle cx="398.3" cy="250.4" r="6.40" fill="#f29a84" stroke="#e8705a" stroke-width="2.62"/>
<text x="398.3" y="252.98" font-size="7.18" font-weight="bold" fill="#3a0c04" stroke="#3a0c04" stroke-width="0.39" text-anchor="middle">IL</text>
<circle cx="123.1" cy="263.2" r="7.40" fill="#f9e594" stroke="#f5de84" stroke-width="2.62"/>
<text x="123.1" y="266.13" font-size="8.15" font-weight="bold" fill="#1e1800" stroke="#1e1800" stroke-width="0.39" text-anchor="middle">NO</text>
<circle cx="370.1" cy="272.7" r="6.70" fill="#b3d2f0" stroke="#8fb8e2" stroke-width="2.62"/>
<text x="370.1" y="275.39" font-size="7.47" font-weight="bold" fill="#1a2a40" stroke="#1a2a40" stroke-width="0.39" text-anchor="middle">BR</text>
<circle cx="249.4" cy="278.1" r="8.80" fill="#f9e594" stroke="#f5de84" stroke-width="2.62"/>
<text x="249.4" y="281.52" font-size="9.51" font-weight="bold" fill="#1e1800" stroke="#1e1800" stroke-width="0.39" text-anchor="middle">ES</text>
<circle cx="312.1" cy="292.4" r="16.70" fill="#f9e594" stroke="#f5de84" stroke-width="2.62"/>
<text x="312.1" y="298.58" font-size="17.17" font-weight="bold" fill="#1e1800" stroke="#1e1800" stroke-width="0.39" text-anchor="middle">DE</text>
<circle cx="176.2" cy="311.8" r="9.00" fill="#f9e594" stroke="#f5de84" stroke-width="2.62"/>
<text x="176.2" y="315.29" font-size="9.70" font-weight="bold" fill="#1e1800" stroke="#1e1800" stroke-width="0.39" text-anchor="middle">IT</text>
<circle cx="388.4" cy="310.5" r="6.20" fill="#f9e594" stroke="#f5de84" stroke-width="2.62"/>
<text x="388.4" y="313.01" font-size="6.98" font-weight="bold" fill="#1e1800" stroke="#1e1800" stroke-width="0.39" text-anchor="middle">IE</text>
<circle cx="321.7" cy="336.6" r="6.20" fill="#f9e594" stroke="#f5de84" stroke-width="2.62"/>
<text x="321.7" y="339.11" font-size="6.98" font-weight="bold" fill="#1e1800" stroke="#1e1800" stroke-width="0.39" text-anchor="middle">HU</text>
<circle cx="240.8" cy="348.4" r="6.40" fill="#f9e594" stroke="#f5de84" stroke-width="2.62"/>
<text x="240.8" y="350.98" font-size="7.18" font-weight="bold" fill="#1e1800" stroke="#1e1800" stroke-width="0.39" text-anchor="middle">PL</text>
<circle cx="160.9" cy="372.0" r="8.90" fill="#f9e594" stroke="#f5de84" stroke-width="2.62"/>
<text x="160.9" y="375.46" font-size="9.60" font-weight="bold" fill="#1e1800" stroke="#1e1800" stroke-width="0.39" text-anchor="middle">FI</text>
<circle cx="380.0" cy="183.0" r="32.91" fill="#90c4ee" stroke="#000" stroke-width="7.87"/>
<text x="380.0" y="194.34" font-size="31.50" font-weight="bold" fill="#000" stroke="#000" stroke-width="1.05" text-anchor="middle">US</text>
</g>
<g transform="translate(168.3,395.5) scale(0.382)">
<g stroke="#e6e9f2" stroke-opacity="0.35" fill="none">
<line x1="380.0" y1="183.0" x2="231.0" y2="175.1" stroke-width="4.38"/>
<line x1="380.0" y1="183.0" x2="165.6" y2="66.8" stroke-width="2.79"/>
<line x1="380.0" y1="183.0" x2="238.0" y2="68.3" stroke-width="2.39"/>
<line x1="380.0" y1="183.0" x2="324.5" y2="115.9" stroke-width="2.79"/>
<line x1="380.0" y1="183.0" x2="387.3" y2="92.9" stroke-width="2.39"/>
<line x1="380.0" y1="183.0" x2="335.1" y2="23.0" stroke-width="1.79"/>
<line x1="380.0" y1="183.0" x2="261.0" y2="10.8" stroke-width="1.79"/>
<line x1="380.0" y1="183.0" x2="176.2" y2="311.8" stroke-width="2.19"/>
<line x1="380.0" y1="183.0" x2="249.4" y2="278.1" stroke-width="1.79"/>
<line x1="380.0" y1="183.0" x2="66.3" y2="241.9" stroke-width="1.79"/>
<line x1="380.0" y1="183.0" x2="300.1" y2="221.0" stroke-width="1.59"/>
<line x1="380.0" y1="183.0" x2="427.6" y2="110.1" stroke-width="1.19"/>
<line x1="380.0" y1="183.0" x2="398.3" y2="250.4" stroke-width="1.19"/>
<line x1="380.0" y1="183.0" x2="100.8" y2="107.8" stroke-width="1.19"/>
<line x1="380.0" y1="183.0" x2="88.5" y2="61.9" stroke-width="1.19"/>
<line x1="380.0" y1="183.0" x2="194.7" y2="11.3" stroke-width="1.19"/>
<line x1="380.0" y1="183.0" x2="123.1" y2="263.2" stroke-width="1.19"/>
<line x1="380.0" y1="183.0" x2="160.9" y2="372.0" stroke-width="1.19"/>
<line x1="380.0" y1="183.0" x2="33.6" y2="147.2" stroke-width="1.19"/>
<line x1="380.0" y1="183.0" x2="240.8" y2="348.4" stroke-width="1.19"/>
<line x1="380.0" y1="183.0" x2="321.7" y2="336.6" stroke-width="1.19"/>
<line x1="380.0" y1="183.0" x2="388.4" y2="310.5" stroke-width="1.19"/>
<line x1="380.0" y1="183.0" x2="370.1" y2="272.7" stroke-width="1.19"/>
<line x1="380.0" y1="183.0" x2="421.7" y2="233.4" stroke-width="1.19"/>
<line x1="380.0" y1="183.0" x2="442.2" y2="209.2" stroke-width="1.19"/>
<line x1="380.0" y1="183.0" x2="445.6" y2="176.4" stroke-width="1.19"/>
<line x1="380.0" y1="183.0" x2="440.6" y2="147.3" stroke-width="1.19"/>
<line x1="231.0" y1="175.1" x2="194.7" y2="11.3" stroke-width="1.19"/>
<line x1="231.0" y1="175.1" x2="261.0" y2="10.8" stroke-width="1.19"/>
<line x1="231.0" y1="175.1" x2="88.5" y2="61.9" stroke-width="1.19"/>
<line x1="231.0" y1="175.1" x2="165.6" y2="66.8" stroke-width="1.99"/>
<line x1="231.0" y1="175.1" x2="238.0" y2="68.3" stroke-width="1.99"/>
<line x1="231.0" y1="175.1" x2="100.8" y2="107.8" stroke-width="1.19"/>
<line x1="231.0" y1="175.1" x2="33.6" y2="147.2" stroke-width="1.19"/>
<line x1="231.0" y1="175.1" x2="94.9" y2="170.3" stroke-width="1.19"/>
<line x1="231.0" y1="175.1" x2="151.4" y2="187.1" stroke-width="1.19"/>
<line x1="231.0" y1="175.1" x2="66.3" y2="241.9" stroke-width="1.59"/>
<line x1="231.0" y1="175.1" x2="123.1" y2="263.2" stroke-width="1.19"/>
<line x1="231.0" y1="175.1" x2="176.2" y2="311.8" stroke-width="1.59"/>
<line x1="231.0" y1="175.1" x2="160.9" y2="372.0" stroke-width="1.19"/>
<line x1="231.0" y1="175.1" x2="249.4" y2="278.1" stroke-width="1.39"/>
<line x1="231.0" y1="175.1" x2="240.8" y2="348.4" stroke-width="1.19"/>
<line x1="231.0" y1="175.1" x2="335.1" y2="23.0" stroke-width="1.19"/>
<line x1="231.0" y1="175.1" x2="387.3" y2="92.9" stroke-width="1.19"/>
<line x1="231.0" y1="175.1" x2="324.5" y2="115.9" stroke-width="1.59"/>
<line x1="231.0" y1="175.1" x2="300.1" y2="221.0" stroke-width="1.19"/>
<line x1="231.0" y1="175.1" x2="398.3" y2="250.4" stroke-width="1.19"/>
<line x1="231.0" y1="175.1" x2="370.1" y2="272.7" stroke-width="1.19"/>
<line x1="165.6" y1="66.8" x2="238.0" y2="68.3" stroke-width="1.19"/>
<line x1="165.6" y1="66.8" x2="100.8" y2="107.8" stroke-width="1.19"/>
<line x1="165.6" y1="66.8" x2="261.0" y2="10.8" stroke-width="1.19"/>
<line x1="165.6" y1="66.8" x2="176.2" y2="311.8" stroke-width="1.19"/>
<line x1="165.6" y1="66.8" x2="249.4" y2="278.1" stroke-width="1.19"/>
<line x1="165.6" y1="66.8" x2="66.3" y2="241.9" stroke-width="1.19"/>
<line x1="165.6" y1="66.8" x2="324.5" y2="115.9" stroke-width="1.19"/>
<line x1="165.6" y1="66.8" x2="194.7" y2="11.3" stroke-width="1.19"/>
<line x1="165.6" y1="66.8" x2="160.9" y2="372.0" stroke-width="1.19"/>
<line x1="165.6" y1="66.8" x2="123.1" y2="263.2" stroke-width="1.19"/>
<line x1="165.6" y1="66.8" x2="300.1" y2="221.0" stroke-width="1.19"/>
<line x1="238.0" y1="68.3" x2="261.0" y2="10.8" stroke-width="1.19"/>
<line x1="238.0" y1="68.3" x2="176.2" y2="311.8" stroke-width="1.39"/>
<line x1="238.0" y1="68.3" x2="249.4" y2="278.1" stroke-width="1.19"/>
<line x1="238.0" y1="68.3" x2="100.8" y2="107.8" stroke-width="1.19"/>
<line x1="238.0" y1="68.3" x2="324.5" y2="115.9" stroke-width="1.19"/>
<line x1="238.0" y1="68.3" x2="387.3" y2="92.9" stroke-width="1.19"/>
<line x1="238.0" y1="68.3" x2="194.7" y2="11.3" stroke-width="1.19"/>
<line x1="238.0" y1="68.3" x2="66.3" y2="241.9" stroke-width="1.19"/>
<line x1="238.0" y1="68.3" x2="123.1" y2="263.2" stroke-width="1.19"/>
<line x1="238.0" y1="68.3" x2="300.1" y2="221.0" stroke-width="1.19"/>
<line x1="176.2" y1="311.8" x2="249.4" y2="278.1" stroke-width="1.19"/>
<line x1="176.2" y1="311.8" x2="261.0" y2="10.8" stroke-width="1.19"/>
<line x1="176.2" y1="311.8" x2="66.3" y2="241.9" stroke-width="1.19"/>
<line x1="176.2" y1="311.8" x2="160.9" y2="372.0" stroke-width="1.19"/>
<line x1="176.2" y1="311.8" x2="123.1" y2="263.2" stroke-width="1.19"/>
<line x1="176.2" y1="311.8" x2="194.7" y2="11.3" stroke-width="1.19"/>
<line x1="176.2" y1="311.8" x2="300.1" y2="221.0" stroke-width="1.19"/>
<line x1="66.3" y1="241.9" x2="160.9" y2="372.0" stroke-width="1.19"/>
<line x1="66.3" y1="241.9" x2="123.1" y2="263.2" stroke-width="1.19"/>
<line x1="66.3" y1="241.9" x2="88.5" y2="61.9" stroke-width="1.19"/>
<line x1="66.3" y1="241.9" x2="100.8" y2="107.8" stroke-width="1.19"/>
<line x1="66.3" y1="241.9" x2="33.6" y2="147.2" stroke-width="1.19"/>
<line x1="66.3" y1="241.9" x2="324.5" y2="115.9" stroke-width="1.19"/>
<line x1="66.3" y1="241.9" x2="300.1" y2="221.0" stroke-width="1.19"/>
<line x1="261.0" y1="10.8" x2="194.7" y2="11.3" stroke-width="1.19"/>
<line x1="261.0" y1="10.8" x2="324.5" y2="115.9" stroke-width="1.19"/>
<line x1="261.0" y1="10.8" x2="249.4" y2="278.1" stroke-width="1.19"/>
<line x1="261.0" y1="10.8" x2="100.8" y2="107.8" stroke-width="1.19"/>
<line x1="261.0" y1="10.8" x2="176.2" y2="311.8" stroke-width="1.19"/>
<line x1="324.5" y1="115.9" x2="387.3" y2="92.9" stroke-width="1.19"/>
<line x1="324.5" y1="115.9" x2="335.1" y2="23.0" stroke-width="1.19"/>
<line x1="324.5" y1="115.9" x2="300.1" y2="221.0" stroke-width="1.19"/>
<line x1="324.5" y1="115.9" x2="249.4" y2="278.1" stroke-width="1.19"/>
<line x1="324.5" y1="115.9" x2="176.2" y2="311.8" stroke-width="1.19"/>
<line x1="335.1" y1="23.0" x2="387.3" y2="92.9" stroke-width="1.19"/>
<line x1="387.3" y1="92.9" x2="427.6" y2="110.1" stroke-width="1.19"/>
<line x1="335.1" y1="23.0" x2="88.5" y2="61.9" stroke-width="1.19"/>
<line x1="33.6" y1="147.2" x2="123.1" y2="263.2" stroke-width="1.19"/>
<line x1="33.6" y1="147.2" x2="100.8" y2="107.8" stroke-width="1.19"/>
<line x1="33.6" y1="147.2" x2="249.4" y2="278.1" stroke-width="1.19"/>
<line x1="160.9" y1="372.0" x2="197.7" y2="381.9" stroke-width="1.19"/>
<line x1="160.9" y1="372.0" x2="249.4" y2="278.1" stroke-width="1.19"/>
<line x1="160.9" y1="372.0" x2="123.1" y2="263.2" stroke-width="1.19"/>
<line x1="249.4" y1="278.1" x2="100.8" y2="107.8" stroke-width="1.19"/>
<line x1="249.4" y1="278.1" x2="300.1" y2="221.0" stroke-width="1.19"/>
<line x1="370.1" y1="272.7" x2="300.1" y2="221.0" stroke-width="1.19"/>
<line x1="370.1" y1="272.7" x2="398.3" y2="250.4" stroke-width="1.19"/>
<line x1="300.1" y1="221.0" x2="387.3" y2="92.9" stroke-width="1.19"/>
<line x1="300.1" y1="221.0" x2="249.4" y2="278.1" stroke-width="1.19"/>
<line x1="151.4" y1="187.1" x2="176.2" y2="311.8" stroke-width="1.19"/>
<line x1="94.9" y1="170.3" x2="238.0" y2="68.3" stroke-width="1.19"/>
<line x1="194.7" y1="11.3" x2="100.8" y2="107.8" stroke-width="1.19"/>
</g>
<line x1="312.1" y1="292.4" x2="380.0" y2="183.0" stroke="#84baea" stroke-opacity="0.85" stroke-width="23.56"/>
<line x1="312.1" y1="292.4" x2="231.0" y2="175.1" stroke="#f2d772" stroke-opacity="0.64" stroke-width="10.47"/>
<line x1="312.1" y1="292.4" x2="165.6" y2="66.8" stroke="#f2d772" stroke-opacity="0.64" stroke-width="9.16"/>
<line x1="312.1" y1="292.4" x2="238.0" y2="68.3" stroke="#f2d772" stroke-opacity="0.64" stroke-width="6.54"/>
<line x1="312.1" y1="292.4" x2="176.2" y2="311.8" stroke="#f2d772" stroke-opacity="0.64" stroke-width="5.89"/>
<line x1="312.1" y1="292.4" x2="261.0" y2="10.8" stroke="#f2d772" stroke-opacity="0.64" stroke-width="5.24"/>
<line x1="312.1" y1="292.4" x2="66.3" y2="241.9" stroke="#f2d772" stroke-opacity="0.64" stroke-width="5.24"/>
<line x1="312.1" y1="292.4" x2="249.4" y2="278.1" stroke="#f2d772" stroke-opacity="0.64" stroke-width="5.24"/>
<line x1="312.1" y1="292.4" x2="324.5" y2="115.9" stroke="#84baea" stroke-opacity="0.85" stroke-width="4.58"/>
<line x1="312.1" y1="292.4" x2="387.3" y2="92.9" stroke="#ee9a86" stroke-opacity="0.8" stroke-width="4.58"/>
<line x1="312.1" y1="292.4" x2="194.7" y2="11.3" stroke="#f2d772" stroke-opacity="0.64" stroke-width="3.93"/>
<line x1="312.1" y1="292.4" x2="100.8" y2="107.8" stroke="#f2d772" stroke-opacity="0.64" stroke-width="3.93"/>
<line x1="312.1" y1="292.4" x2="300.1" y2="221.0" stroke="#7082c4" stroke-opacity="0.85" stroke-width="3.93"/>
<line x1="312.1" y1="292.4" x2="123.1" y2="263.2" stroke="#f2d772" stroke-opacity="0.64" stroke-width="3.27"/>
<line x1="312.1" y1="292.4" x2="160.9" y2="372.0" stroke="#f2d772" stroke-opacity="0.64" stroke-width="3.27"/>
<line x1="312.1" y1="292.4" x2="335.1" y2="23.0" stroke="#ee9a86" stroke-opacity="0.8" stroke-width="3.27"/>
<line x1="312.1" y1="292.4" x2="88.5" y2="61.9" stroke="#f2d772" stroke-opacity="0.64" stroke-width="2.62"/>
<line x1="312.1" y1="292.4" x2="240.8" y2="348.4" stroke="#f2d772" stroke-opacity="0.64" stroke-width="1.96"/>
<line x1="312.1" y1="292.4" x2="398.3" y2="250.4" stroke="#ee9a86" stroke-opacity="0.8" stroke-width="1.96"/>
<line x1="312.1" y1="292.4" x2="94.9" y2="170.3" stroke="#f2d772" stroke-opacity="0.64" stroke-width="1.57"/>
<line x1="312.1" y1="292.4" x2="358.6" y2="310.5" stroke="#f2d772" stroke-opacity="0.64" stroke-width="1.57"/>
<line x1="312.1" y1="292.4" x2="321.7" y2="336.6" stroke="#f2d772" stroke-opacity="0.64" stroke-width="1.57"/>
<circle cx="427.6" cy="110.1" r="8.4" fill="#f3c2b6" fill-opacity="0.2"/>
<circle cx="33.6" cy="147.2" r="7.6" fill="#f3e3a0" fill-opacity="0.2"/>
<circle cx="440.6" cy="147.3" r="7.1" fill="#f3c2b6" fill-opacity="0.2"/>
<circle cx="445.6" cy="176.4" r="7.5" fill="#f3c2b6" fill-opacity="0.2"/>
<circle cx="151.4" cy="187.1" r="6.9" fill="#f3e3a0" fill-opacity="0.2"/>
<circle cx="442.2" cy="209.2" r="7.3" fill="#f3c2b6" fill-opacity="0.2"/>
<circle cx="421.7" cy="233.4" r="7.6" fill="#f3c2b6" fill-opacity="0.2"/>
<circle cx="370.1" cy="272.7" r="7.7" fill="#d4e4f4" fill-opacity="0.2"/>
<circle cx="388.4" cy="310.5" r="7.2" fill="#f3e3a0" fill-opacity="0.2"/>
<circle cx="197.7" cy="381.9" r="7.3" fill="#d4e4f4" fill-opacity="0.2"/>
<circle cx="194.7" cy="11.3" r="7.20" fill="#f9e594" stroke="#f5de84" stroke-width="2.62"/>
<text x="194.7" y="14.16" font-size="7.95" font-weight="bold" fill="#1e1800" stroke="#1e1800" stroke-width="0.39" text-anchor="middle">AT</text>
<circle cx="261.0" cy="10.8" r="8.30" fill="#f9e594" stroke="#f5de84" stroke-width="2.62"/>
<text x="261.0" y="14.05" font-size="9.02" font-weight="bold" fill="#1e1800" stroke="#1e1800" stroke-width="0.39" text-anchor="middle">CH</text>
<circle cx="335.1" cy="23.0" r="8.30" fill="#f29a84" stroke="#e8705a" stroke-width="2.62"/>
<text x="335.1" y="26.25" font-size="9.02" font-weight="bold" fill="#3a0c04" stroke="#3a0c04" stroke-width="0.39" text-anchor="middle">CN</text>
<circle cx="88.5" cy="61.9" r="6.70" fill="#f9e594" stroke="#f5de84" stroke-width="2.62"/>
<text x="88.5" y="64.59" font-size="7.47" font-weight="bold" fill="#1e1800" stroke="#1e1800" stroke-width="0.39" text-anchor="middle">DK</text>
<circle cx="165.6" cy="66.8" r="11.00" fill="#f9e594" stroke="#f5de84" stroke-width="2.62"/>
<text x="165.6" y="70.99" font-size="11.64" font-weight="bold" fill="#1e1800" stroke="#1e1800" stroke-width="0.39" text-anchor="middle">NL</text>
<circle cx="238.0" cy="68.3" r="9.90" fill="#f9e594" stroke="#f5de84" stroke-width="2.62"/>
<text x="238.0" y="72.11" font-size="10.57" font-weight="bold" fill="#1e1800" stroke="#1e1800" stroke-width="0.39" text-anchor="middle">FR</text>
<circle cx="387.3" cy="92.9" r="10.40" fill="#f29a84" stroke="#e8705a" stroke-width="2.62"/>
<text x="387.3" y="96.88" font-size="11.06" font-weight="bold" fill="#3a0c04" stroke="#3a0c04" stroke-width="0.39" text-anchor="middle">JP</text>
<circle cx="100.8" cy="107.8" r="7.00" fill="#f9e594" stroke="#f5de84" stroke-width="2.62"/>
<text x="100.8" y="110.59" font-size="7.76" font-weight="bold" fill="#1e1800" stroke="#1e1800" stroke-width="0.39" text-anchor="middle">BE</text>
<circle cx="324.5" cy="115.9" r="9.80" fill="#90c4ee" stroke="#4f8fd6" stroke-width="2.62"/>
<text x="324.5" y="119.67" font-size="10.48" font-weight="bold" fill="#0a1a30" stroke="#0a1a30" stroke-width="0.39" text-anchor="middle">CA</text>
<circle cx="94.9" cy="170.3" r="6.60" fill="#f9e594" stroke="#f5de84" stroke-width="2.62"/>
<text x="94.9" y="172.95" font-size="7.37" font-weight="bold" fill="#1e1800" stroke="#1e1800" stroke-width="0.39" text-anchor="middle">CZ</text>
<circle cx="231.0" cy="175.1" r="13.70" fill="#f9e594" stroke="#f5de84" stroke-width="2.62"/>
<text x="231.0" y="180.23" font-size="14.26" font-weight="bold" fill="#1e1800" stroke="#1e1800" stroke-width="0.39" text-anchor="middle">UK</text>
<circle cx="380.0" cy="183.0" r="30.60" fill="#90c4ee" stroke="#4f8fd6" stroke-width="2.62"/>
<text x="380.0" y="194.38" font-size="31.60" font-weight="bold" fill="#0a1a30" stroke="#0a1a30" stroke-width="0.39" text-anchor="middle">US</text>
<circle cx="300.1" cy="221.0" r="8.10" fill="#5567b3" stroke="#44569f" stroke-width="2.62"/>
<text x="300.1" y="224.18" font-size="8.83" font-weight="bold" fill="#0a123a" stroke="#0a123a" stroke-width="0.39" text-anchor="middle">AU</text>
<circle cx="66.3" cy="241.9" r="8.90" fill="#f9e594" stroke="#f5de84" stroke-width="2.62"/>
<text x="66.3" y="245.36" font-size="9.60" font-weight="bold" fill="#1e1800" stroke="#1e1800" stroke-width="0.39" text-anchor="middle">SE</text>
<circle cx="398.3" cy="250.4" r="6.40" fill="#f29a84" stroke="#e8705a" stroke-width="2.62"/>
<text x="398.3" y="252.98" font-size="7.18" font-weight="bold" fill="#3a0c04" stroke="#3a0c04" stroke-width="0.39" text-anchor="middle">IL</text>
<circle cx="123.1" cy="263.2" r="7.40" fill="#f9e594" stroke="#f5de84" stroke-width="2.62"/>
<text x="123.1" y="266.13" font-size="8.15" font-weight="bold" fill="#1e1800" stroke="#1e1800" stroke-width="0.39" text-anchor="middle">NO</text>
<circle cx="249.4" cy="278.1" r="8.80" fill="#f9e594" stroke="#f5de84" stroke-width="2.62"/>
<text x="249.4" y="281.52" font-size="9.51" font-weight="bold" fill="#1e1800" stroke="#1e1800" stroke-width="0.39" text-anchor="middle">ES</text>
<circle cx="176.2" cy="311.8" r="9.00" fill="#f9e594" stroke="#f5de84" stroke-width="2.62"/>
<text x="176.2" y="315.29" font-size="9.70" font-weight="bold" fill="#1e1800" stroke="#1e1800" stroke-width="0.39" text-anchor="middle">IT</text>
<circle cx="358.6" cy="310.5" r="6.20" fill="#f9e594" stroke="#f5de84" stroke-width="2.62"/>
<text x="358.6" y="313.01" font-size="6.98" font-weight="bold" fill="#1e1800" stroke="#1e1800" stroke-width="0.39" text-anchor="middle">RU</text>
<circle cx="321.7" cy="336.6" r="6.20" fill="#f9e594" stroke="#f5de84" stroke-width="2.62"/>
<text x="321.7" y="339.11" font-size="6.98" font-weight="bold" fill="#1e1800" stroke="#1e1800" stroke-width="0.39" text-anchor="middle">HU</text>
<circle cx="240.8" cy="348.4" r="6.40" fill="#f9e594" stroke="#f5de84" stroke-width="2.62"/>
<text x="240.8" y="350.98" font-size="7.18" font-weight="bold" fill="#1e1800" stroke="#1e1800" stroke-width="0.39" text-anchor="middle">PL</text>
<circle cx="160.9" cy="372.0" r="8.90" fill="#f9e594" stroke="#f5de84" stroke-width="2.62"/>
<text x="160.9" y="375.46" font-size="9.60" font-weight="bold" fill="#1e1800" stroke="#1e1800" stroke-width="0.39" text-anchor="middle">FI</text>
<circle cx="312.1" cy="292.4" r="19.01" fill="#f9e594" stroke="#000" stroke-width="7.85"/>
<text x="312.1" y="298.16" font-size="16.00" font-weight="bold" fill="#000" stroke="#000" stroke-width="1.05" text-anchor="middle">DE</text>
</g>
<g transform="translate(341.5,395.45) scale(0.388)">
<g stroke="#e6e9f2" stroke-opacity="0.35" fill="none">
<line x1="380.0" y1="183.0" x2="312.1" y2="292.4" stroke-width="7.05"/>
<line x1="380.0" y1="183.0" x2="165.6" y2="66.8" stroke-width="2.74"/>
<line x1="380.0" y1="183.0" x2="238.0" y2="68.3" stroke-width="2.35"/>
<line x1="380.0" y1="183.0" x2="324.5" y2="115.9" stroke-width="2.74"/>
<line x1="380.0" y1="183.0" x2="387.3" y2="92.9" stroke-width="2.35"/>
<line x1="380.0" y1="183.0" x2="335.1" y2="23.0" stroke-width="1.76"/>
<line x1="380.0" y1="183.0" x2="261.0" y2="10.8" stroke-width="1.76"/>
<line x1="380.0" y1="183.0" x2="176.2" y2="311.8" stroke-width="2.15"/>
<line x1="380.0" y1="183.0" x2="249.4" y2="278.1" stroke-width="1.76"/>
<line x1="380.0" y1="183.0" x2="66.3" y2="241.9" stroke-width="1.76"/>
<line x1="380.0" y1="183.0" x2="300.1" y2="221.0" stroke-width="1.57"/>
<line x1="380.0" y1="183.0" x2="427.6" y2="110.1" stroke-width="1.18"/>
<line x1="380.0" y1="183.0" x2="398.3" y2="250.4" stroke-width="1.18"/>
<line x1="380.0" y1="183.0" x2="100.8" y2="107.8" stroke-width="1.18"/>
<line x1="380.0" y1="183.0" x2="88.5" y2="61.9" stroke-width="1.18"/>
<line x1="380.0" y1="183.0" x2="194.7" y2="11.3" stroke-width="1.18"/>
<line x1="380.0" y1="183.0" x2="123.1" y2="263.2" stroke-width="1.18"/>
<line x1="380.0" y1="183.0" x2="160.9" y2="372.0" stroke-width="1.18"/>
<line x1="380.0" y1="183.0" x2="33.6" y2="147.2" stroke-width="1.18"/>
<line x1="380.0" y1="183.0" x2="240.8" y2="348.4" stroke-width="1.18"/>
<line x1="380.0" y1="183.0" x2="321.7" y2="336.6" stroke-width="1.18"/>
<line x1="380.0" y1="183.0" x2="388.4" y2="310.5" stroke-width="1.18"/>
<line x1="380.0" y1="183.0" x2="370.1" y2="272.7" stroke-width="1.18"/>
<line x1="380.0" y1="183.0" x2="421.7" y2="233.4" stroke-width="1.18"/>
<line x1="380.0" y1="183.0" x2="442.2" y2="209.2" stroke-width="1.18"/>
<line x1="380.0" y1="183.0" x2="445.6" y2="176.4" stroke-width="1.18"/>
<line x1="380.0" y1="183.0" x2="440.6" y2="147.3" stroke-width="1.18"/>
<line x1="312.1" y1="292.4" x2="165.6" y2="66.8" stroke-width="2.74"/>
<line x1="312.1" y1="292.4" x2="238.0" y2="68.3" stroke-width="1.96"/>
<line x1="312.1" y1="292.4" x2="261.0" y2="10.8" stroke-width="1.57"/>
<line x1="312.1" y1="292.4" x2="194.7" y2="11.3" stroke-width="1.18"/>
<line x1="312.1" y1="292.4" x2="88.5" y2="61.9" stroke-width="1.18"/>
<line x1="312.1" y1="292.4" x2="100.8" y2="107.8" stroke-width="1.18"/>
<line x1="312.1" y1="292.4" x2="94.9" y2="170.3" stroke-width="1.18"/>
<line x1="312.1" y1="292.4" x2="66.3" y2="241.9" stroke-width="1.57"/>
<line x1="312.1" y1="292.4" x2="123.1" y2="263.2" stroke-width="1.18"/>
<line x1="312.1" y1="292.4" x2="249.4" y2="278.1" stroke-width="1.57"/>
<line x1="312.1" y1="292.4" x2="176.2" y2="311.8" stroke-width="1.76"/>
<line x1="312.1" y1="292.4" x2="160.9" y2="372.0" stroke-width="1.18"/>
<line x1="312.1" y1="292.4" x2="240.8" y2="348.4" stroke-width="1.18"/>
<line x1="312.1" y1="292.4" x2="300.1" y2="221.0" stroke-width="1.18"/>
<line x1="312.1" y1="292.4" x2="335.1" y2="23.0" stroke-width="1.18"/>
<line x1="312.1" y1="292.4" x2="324.5" y2="115.9" stroke-width="1.37"/>
<line x1="312.1" y1="292.4" x2="387.3" y2="92.9" stroke-width="1.37"/>
<line x1="312.1" y1="292.4" x2="398.3" y2="250.4" stroke-width="1.18"/>
<line x1="312.1" y1="292.4" x2="358.6" y2="310.5" stroke-width="1.18"/>
<line x1="312.1" y1="292.4" x2="321.7" y2="336.6" stroke-width="1.18"/>
<line x1="165.6" y1="66.8" x2="238.0" y2="68.3" stroke-width="1.18"/>
<line x1="165.6" y1="66.8" x2="100.8" y2="107.8" stroke-width="1.18"/>
<line x1="165.6" y1="66.8" x2="261.0" y2="10.8" stroke-width="1.18"/>
<line x1="165.6" y1="66.8" x2="176.2" y2="311.8" stroke-width="1.18"/>
<line x1="165.6" y1="66.8" x2="249.4" y2="278.1" stroke-width="1.18"/>
<line x1="165.6" y1="66.8" x2="66.3" y2="241.9" stroke-width="1.18"/>
<line x1="165.6" y1="66.8" x2="324.5" y2="115.9" stroke-width="1.18"/>
<line x1="165.6" y1="66.8" x2="194.7" y2="11.3" stroke-width="1.18"/>
<line x1="165.6" y1="66.8" x2="160.9" y2="372.0" stroke-width="1.18"/>
<line x1="165.6" y1="66.8" x2="123.1" y2="263.2" stroke-width="1.18"/>
<line x1="165.6" y1="66.8" x2="300.1" y2="221.0" stroke-width="1.18"/>
<line x1="238.0" y1="68.3" x2="261.0" y2="10.8" stroke-width="1.18"/>
<line x1="238.0" y1="68.3" x2="176.2" y2="311.8" stroke-width="1.37"/>
<line x1="238.0" y1="68.3" x2="249.4" y2="278.1" stroke-width="1.18"/>
<line x1="238.0" y1="68.3" x2="100.8" y2="107.8" stroke-width="1.18"/>
<line x1="238.0" y1="68.3" x2="324.5" y2="115.9" stroke-width="1.18"/>
<line x1="238.0" y1="68.3" x2="387.3" y2="92.9" stroke-width="1.18"/>
<line x1="238.0" y1="68.3" x2="194.7" y2="11.3" stroke-width="1.18"/>
<line x1="238.0" y1="68.3" x2="66.3" y2="241.9" stroke-width="1.18"/>
<line x1="238.0" y1="68.3" x2="123.1" y2="263.2" stroke-width="1.18"/>
<line x1="238.0" y1="68.3" x2="300.1" y2="221.0" stroke-width="1.18"/>
<line x1="176.2" y1="311.8" x2="249.4" y2="278.1" stroke-width="1.18"/>
<line x1="176.2" y1="311.8" x2="261.0" y2="10.8" stroke-width="1.18"/>
<line x1="176.2" y1="311.8" x2="66.3" y2="241.9" stroke-width="1.18"/>
<line x1="176.2" y1="311.8" x2="160.9" y2="372.0" stroke-width="1.18"/>
<line x1="176.2" y1="311.8" x2="123.1" y2="263.2" stroke-width="1.18"/>
<line x1="176.2" y1="311.8" x2="194.7" y2="11.3" stroke-width="1.18"/>
<line x1="176.2" y1="311.8" x2="300.1" y2="221.0" stroke-width="1.18"/>
<line x1="66.3" y1="241.9" x2="160.9" y2="372.0" stroke-width="1.18"/>
<line x1="66.3" y1="241.9" x2="123.1" y2="263.2" stroke-width="1.18"/>
<line x1="66.3" y1="241.9" x2="88.5" y2="61.9" stroke-width="1.18"/>
<line x1="66.3" y1="241.9" x2="100.8" y2="107.8" stroke-width="1.18"/>
<line x1="66.3" y1="241.9" x2="33.6" y2="147.2" stroke-width="1.18"/>
<line x1="66.3" y1="241.9" x2="324.5" y2="115.9" stroke-width="1.18"/>
<line x1="66.3" y1="241.9" x2="300.1" y2="221.0" stroke-width="1.18"/>
<line x1="261.0" y1="10.8" x2="194.7" y2="11.3" stroke-width="1.18"/>
<line x1="261.0" y1="10.8" x2="324.5" y2="115.9" stroke-width="1.18"/>
<line x1="261.0" y1="10.8" x2="249.4" y2="278.1" stroke-width="1.18"/>
<line x1="261.0" y1="10.8" x2="100.8" y2="107.8" stroke-width="1.18"/>
<line x1="261.0" y1="10.8" x2="176.2" y2="311.8" stroke-width="1.18"/>
<line x1="324.5" y1="115.9" x2="387.3" y2="92.9" stroke-width="1.18"/>
<line x1="324.5" y1="115.9" x2="335.1" y2="23.0" stroke-width="1.18"/>
<line x1="324.5" y1="115.9" x2="300.1" y2="221.0" stroke-width="1.18"/>
<line x1="324.5" y1="115.9" x2="249.4" y2="278.1" stroke-width="1.18"/>
<line x1="324.5" y1="115.9" x2="176.2" y2="311.8" stroke-width="1.18"/>
<line x1="335.1" y1="23.0" x2="387.3" y2="92.9" stroke-width="1.18"/>
<line x1="387.3" y1="92.9" x2="427.6" y2="110.1" stroke-width="1.18"/>
<line x1="335.1" y1="23.0" x2="88.5" y2="61.9" stroke-width="1.18"/>
<line x1="33.6" y1="147.2" x2="123.1" y2="263.2" stroke-width="1.18"/>
<line x1="33.6" y1="147.2" x2="100.8" y2="107.8" stroke-width="1.18"/>
<line x1="33.6" y1="147.2" x2="249.4" y2="278.1" stroke-width="1.18"/>
<line x1="160.9" y1="372.0" x2="197.7" y2="381.9" stroke-width="1.18"/>
<line x1="160.9" y1="372.0" x2="249.4" y2="278.1" stroke-width="1.18"/>
<line x1="160.9" y1="372.0" x2="123.1" y2="263.2" stroke-width="1.18"/>
<line x1="249.4" y1="278.1" x2="100.8" y2="107.8" stroke-width="1.18"/>
<line x1="249.4" y1="278.1" x2="300.1" y2="221.0" stroke-width="1.18"/>
<line x1="370.1" y1="272.7" x2="300.1" y2="221.0" stroke-width="1.18"/>
<line x1="370.1" y1="272.7" x2="398.3" y2="250.4" stroke-width="1.18"/>
<line x1="300.1" y1="221.0" x2="387.3" y2="92.9" stroke-width="1.18"/>
<line x1="300.1" y1="221.0" x2="249.4" y2="278.1" stroke-width="1.18"/>
<line x1="151.4" y1="187.1" x2="176.2" y2="311.8" stroke-width="1.18"/>
<line x1="94.9" y1="170.3" x2="238.0" y2="68.3" stroke-width="1.18"/>
<line x1="194.7" y1="11.3" x2="100.8" y2="107.8" stroke-width="1.18"/>
</g>
<line x1="231.0" y1="175.1" x2="380.0" y2="183.0" stroke="#84baea" stroke-opacity="0.85" stroke-width="14.18"/>
<line x1="231.0" y1="175.1" x2="312.1" y2="292.4" stroke="#f2d772" stroke-opacity="0.64" stroke-width="10.31"/>
<line x1="231.0" y1="175.1" x2="165.6" y2="66.8" stroke="#f2d772" stroke-opacity="0.64" stroke-width="6.44"/>
<line x1="231.0" y1="175.1" x2="238.0" y2="68.3" stroke="#f2d772" stroke-opacity="0.64" stroke-width="6.44"/>
<line x1="231.0" y1="175.1" x2="66.3" y2="241.9" stroke="#f2d772" stroke-opacity="0.64" stroke-width="5.15"/>
<line x1="231.0" y1="175.1" x2="176.2" y2="311.8" stroke="#f2d772" stroke-opacity="0.64" stroke-width="5.15"/>
<line x1="231.0" y1="175.1" x2="324.5" y2="115.9" stroke="#84baea" stroke-opacity="0.85" stroke-width="5.15"/>
<line x1="231.0" y1="175.1" x2="249.4" y2="278.1" stroke="#f2d772" stroke-opacity="0.64" stroke-width="4.51"/>
<line x1="231.0" y1="175.1" x2="261.0" y2="10.8" stroke="#f2d772" stroke-opacity="0.64" stroke-width="3.87"/>
<line x1="231.0" y1="175.1" x2="100.8" y2="107.8" stroke="#f2d772" stroke-opacity="0.64" stroke-width="3.87"/>
<line x1="231.0" y1="175.1" x2="300.1" y2="221.0" stroke="#7082c4" stroke-opacity="0.85" stroke-width="3.87"/>
<line x1="231.0" y1="175.1" x2="194.7" y2="11.3" stroke="#f2d772" stroke-opacity="0.64" stroke-width="2.58"/>
<line x1="231.0" y1="175.1" x2="88.5" y2="61.9" stroke="#f2d772" stroke-opacity="0.64" stroke-width="2.58"/>
<line x1="231.0" y1="175.1" x2="123.1" y2="263.2" stroke="#f2d772" stroke-opacity="0.64" stroke-width="2.58"/>
<line x1="231.0" y1="175.1" x2="160.9" y2="372.0" stroke="#f2d772" stroke-opacity="0.64" stroke-width="2.58"/>
<line x1="231.0" y1="175.1" x2="33.6" y2="147.2" stroke="#f2d772" stroke-opacity="0.64" stroke-width="1.93"/>
<line x1="231.0" y1="175.1" x2="335.1" y2="23.0" stroke="#ee9a86" stroke-opacity="0.8" stroke-width="1.93"/>
<line x1="231.0" y1="175.1" x2="387.3" y2="92.9" stroke="#ee9a86" stroke-opacity="0.8" stroke-width="1.93"/>
<line x1="231.0" y1="175.1" x2="151.4" y2="187.1" stroke="#f2d772" stroke-opacity="0.64" stroke-width="1.29"/>
<line x1="231.0" y1="175.1" x2="240.8" y2="348.4" stroke="#f2d772" stroke-opacity="0.64" stroke-width="1.29"/>
<line x1="231.0" y1="175.1" x2="398.3" y2="250.4" stroke="#ee9a86" stroke-opacity="0.8" stroke-width="1.29"/>
<line x1="231.0" y1="175.1" x2="370.1" y2="272.7" stroke="#a4c8ec" stroke-opacity="0.85" stroke-width="1.29"/>
<line x1="231.0" y1="175.1" x2="94.9" y2="170.3" stroke="#f2d772" stroke-opacity="0.64" stroke-width="1.03"/>
<circle cx="427.6" cy="110.1" r="8.4" fill="#f3c2b6" fill-opacity="0.2"/>
<circle cx="440.6" cy="147.3" r="7.1" fill="#f3c2b6" fill-opacity="0.2"/>
<circle cx="445.6" cy="176.4" r="7.5" fill="#f3c2b6" fill-opacity="0.2"/>
<circle cx="442.2" cy="209.2" r="7.3" fill="#f3c2b6" fill-opacity="0.2"/>
<circle cx="421.7" cy="233.4" r="7.6" fill="#f3c2b6" fill-opacity="0.2"/>
<circle cx="358.6" cy="310.5" r="7.2" fill="#f3e3a0" fill-opacity="0.2"/>
<circle cx="388.4" cy="310.5" r="7.2" fill="#f3e3a0" fill-opacity="0.2"/>
<circle cx="321.7" cy="336.6" r="7.2" fill="#f3e3a0" fill-opacity="0.2"/>
<circle cx="197.7" cy="381.9" r="7.3" fill="#d4e4f4" fill-opacity="0.2"/>
<circle cx="194.7" cy="11.3" r="7.20" fill="#f9e594" stroke="#f5de84" stroke-width="2.58"/>
<text x="194.7" y="14.16" font-size="7.95" font-weight="bold" fill="#1e1800" stroke="#1e1800" stroke-width="0.39" text-anchor="middle">AT</text>
<circle cx="261.0" cy="10.8" r="8.30" fill="#f9e594" stroke="#f5de84" stroke-width="2.58"/>
<text x="261.0" y="14.05" font-size="9.02" font-weight="bold" fill="#1e1800" stroke="#1e1800" stroke-width="0.39" text-anchor="middle">CH</text>
<circle cx="335.1" cy="23.0" r="8.30" fill="#f29a84" stroke="#e8705a" stroke-width="2.58"/>
<text x="335.1" y="26.25" font-size="9.02" font-weight="bold" fill="#3a0c04" stroke="#3a0c04" stroke-width="0.39" text-anchor="middle">CN</text>
<circle cx="88.5" cy="61.9" r="6.70" fill="#f9e594" stroke="#f5de84" stroke-width="2.58"/>
<text x="88.5" y="64.59" font-size="7.47" font-weight="bold" fill="#1e1800" stroke="#1e1800" stroke-width="0.39" text-anchor="middle">DK</text>
<circle cx="165.6" cy="66.8" r="11.00" fill="#f9e594" stroke="#f5de84" stroke-width="2.58"/>
<text x="165.6" y="70.99" font-size="11.64" font-weight="bold" fill="#1e1800" stroke="#1e1800" stroke-width="0.39" text-anchor="middle">NL</text>
<circle cx="238.0" cy="68.3" r="9.90" fill="#f9e594" stroke="#f5de84" stroke-width="2.58"/>
<text x="238.0" y="72.11" font-size="10.57" font-weight="bold" fill="#1e1800" stroke="#1e1800" stroke-width="0.39" text-anchor="middle">FR</text>
<circle cx="387.3" cy="92.9" r="10.40" fill="#f29a84" stroke="#e8705a" stroke-width="2.58"/>
<text x="387.3" y="96.88" font-size="11.06" font-weight="bold" fill="#3a0c04" stroke="#3a0c04" stroke-width="0.39" text-anchor="middle">JP</text>
<circle cx="100.8" cy="107.8" r="7.00" fill="#f9e594" stroke="#f5de84" stroke-width="2.58"/>
<text x="100.8" y="110.59" font-size="7.76" font-weight="bold" fill="#1e1800" stroke="#1e1800" stroke-width="0.39" text-anchor="middle">BE</text>
<circle cx="324.5" cy="115.9" r="9.80" fill="#90c4ee" stroke="#4f8fd6" stroke-width="2.58"/>
<text x="324.5" y="119.67" font-size="10.48" font-weight="bold" fill="#0a1a30" stroke="#0a1a30" stroke-width="0.39" text-anchor="middle">CA</text>
<circle cx="33.6" cy="147.2" r="6.60" fill="#f9e594" stroke="#f5de84" stroke-width="2.58"/>
<text x="33.6" y="149.85" font-size="7.37" font-weight="bold" fill="#1e1800" stroke="#1e1800" stroke-width="0.39" text-anchor="middle">PT</text>
<circle cx="94.9" cy="170.3" r="6.60" fill="#f9e594" stroke="#f5de84" stroke-width="2.58"/>
<text x="94.9" y="172.95" font-size="7.37" font-weight="bold" fill="#1e1800" stroke="#1e1800" stroke-width="0.39" text-anchor="middle">CZ</text>
<circle cx="380.0" cy="183.0" r="30.60" fill="#90c4ee" stroke="#4f8fd6" stroke-width="2.58"/>
<text x="380.0" y="194.38" font-size="31.60" font-weight="bold" fill="#0a1a30" stroke="#0a1a30" stroke-width="0.39" text-anchor="middle">US</text>
<circle cx="151.4" cy="187.1" r="5.90" fill="#f9e594" stroke="#f5de84" stroke-width="2.58"/>
<text x="151.4" y="189.51" font-size="6.69" font-weight="bold" fill="#1e1800" stroke="#1e1800" stroke-width="0.39" text-anchor="middle">GR</text>
<circle cx="300.1" cy="221.0" r="8.10" fill="#5567b3" stroke="#44569f" stroke-width="2.58"/>
<text x="300.1" y="224.18" font-size="8.83" font-weight="bold" fill="#0a123a" stroke="#0a123a" stroke-width="0.39" text-anchor="middle">AU</text>
<circle cx="66.3" cy="241.9" r="8.90" fill="#f9e594" stroke="#f5de84" stroke-width="2.58"/>
<text x="66.3" y="245.36" font-size="9.60" font-weight="bold" fill="#1e1800" stroke="#1e1800" stroke-width="0.39" text-anchor="middle">SE</text>
<circle cx="398.3" cy="250.4" r="6.40" fill="#f29a84" stroke="#e8705a" stroke-width="2.58"/>
<text x="398.3" y="252.98" font-size="7.18" font-weight="bold" fill="#3a0c04" stroke="#3a0c04" stroke-width="0.39" text-anchor="middle">IL</text>
<circle cx="123.1" cy="263.2" r="7.40" fill="#f9e594" stroke="#f5de84" stroke-width="2.58"/>
<text x="123.1" y="266.13" font-size="8.15" font-weight="bold" fill="#1e1800" stroke="#1e1800" stroke-width="0.39" text-anchor="middle">NO</text>
<circle cx="370.1" cy="272.7" r="6.70" fill="#b3d2f0" stroke="#8fb8e2" stroke-width="2.58"/>
<text x="370.1" y="275.39" font-size="7.47" font-weight="bold" fill="#1a2a40" stroke="#1a2a40" stroke-width="0.39" text-anchor="middle">BR</text>
<circle cx="249.4" cy="278.1" r="8.80" fill="#f9e594" stroke="#f5de84" stroke-width="2.58"/>
<text x="249.4" y="281.52" font-size="9.51" font-weight="bold" fill="#1e1800" stroke="#1e1800" stroke-width="0.39" text-anchor="middle">ES</text>
<circle cx="312.1" cy="292.4" r="16.70" fill="#f9e594" stroke="#f5de84" stroke-width="2.58"/>
<text x="312.1" y="298.58" font-size="17.17" font-weight="bold" fill="#1e1800" stroke="#1e1800" stroke-width="0.39" text-anchor="middle">DE</text>
<circle cx="176.2" cy="311.8" r="9.00" fill="#f9e594" stroke="#f5de84" stroke-width="2.58"/>
<text x="176.2" y="315.29" font-size="9.70" font-weight="bold" fill="#1e1800" stroke="#1e1800" stroke-width="0.39" text-anchor="middle">IT</text>
<circle cx="240.8" cy="348.4" r="6.40" fill="#f9e594" stroke="#f5de84" stroke-width="2.58"/>
<text x="240.8" y="350.98" font-size="7.18" font-weight="bold" fill="#1e1800" stroke="#1e1800" stroke-width="0.39" text-anchor="middle">PL</text>
<circle cx="160.9" cy="372.0" r="8.90" fill="#f9e594" stroke="#f5de84" stroke-width="2.58"/>
<text x="160.9" y="375.46" font-size="9.60" font-weight="bold" fill="#1e1800" stroke="#1e1800" stroke-width="0.39" text-anchor="middle">FI</text>
<circle cx="231.0" cy="175.1" r="15.99" fill="#f9e594" stroke="#000" stroke-width="7.73"/>
<text x="231.0" y="181.04" font-size="16.50" font-weight="bold" fill="#000" stroke="#000" stroke-width="1.03" text-anchor="middle">UK</text>
</g>
</svg>
</body></html>
